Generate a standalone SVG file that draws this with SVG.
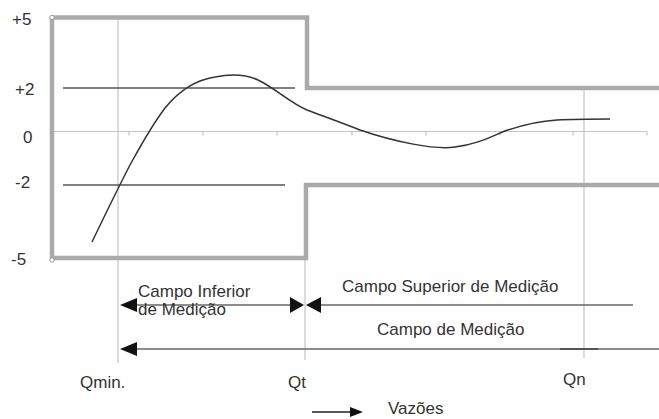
<svg xmlns="http://www.w3.org/2000/svg" width="659" height="419" viewBox="0 0 659 419">
<style>
.t{font-family:"Liberation Sans",Arial,sans-serif;font-size:17px;fill:#333}
.frame{fill:none;stroke:#aaaaaa;stroke-width:4.5}
.grid{fill:none;stroke:#c4c4c4;stroke-width:1.2}
.lim{fill:none;stroke:#555;stroke-width:1.4}
.arr{fill:none;stroke:#666;stroke-width:1.6}
.head{fill:#111}
</style>
<rect width="659" height="419" fill="#fff"/>
<g id="grid">
<line class="grid" x1="118" y1="17" x2="118" y2="363"/>
<line class="grid" x1="305" y1="258" x2="305" y2="360"/>
<line class="grid" x1="584" y1="88" x2="584" y2="358"/>
<line class="grid" x1="52" y1="131.5" x2="647" y2="131.5"/>
<path class="grid" d="M129,131.5v4M203,131.5v4M277,131.5v4M352,131.5v4M426,131.5v4M500,131.5v4M573,131.5v4M647,131.5v4"/>
</g>
<g id="frame">
<path class="frame" d="M52,17.5H307V88H659"/>
<path class="frame" d="M52,17.5V258H306V185H659"/>
<circle cx="52" cy="17.5" r="2.2" fill="#fff" stroke="#999" stroke-width="1"/>
<circle cx="52" cy="260" r="2.2" fill="#fff" stroke="#999" stroke-width="1"/>
</g>
<g id="limits">
<line class="lim" x1="63" y1="88" x2="295" y2="88"/>
<line class="lim" x1="63" y1="185" x2="285" y2="185"/>
</g>
<g id="curve">
<path d="M92,242 C105,215 118,188 130,165 C140,147 150,128 165,108 C178,92 195,80 215,77 C230,74 245,74 258,80 C275,88 290,103 307,110 C320,115 340,122 360,130 C395,142 435,150 455,147 C478,144 490,137 505,131 C525,124 540,121 557,120 C575,119 595,119 610,119" fill="none" stroke="#333" stroke-width="1.5"/>
</g>
<g id="axis-labels">
<text class="t" x="12" y="25">+5</text>
<text class="t" x="15" y="95">+2</text>
<text class="t" x="23" y="143">0</text>
<text class="t" x="15" y="188">-2</text>
<text class="t" x="11" y="265">-5</text>
</g>
<g id="connectors">
<line class="arr" x1="125" y1="305" x2="298" y2="305"/>
<polygon class="head" points="120,305 137,298 137,312"/>
<polygon class="head" points="304,305 290,297 290,313"/>
<line class="arr" x1="312" y1="305" x2="633" y2="305"/>
<polygon class="head" points="306,305 321,297 321,313"/>
<line class="arr" x1="125" y1="349" x2="659" y2="349"/>
<line x1="560" y1="349" x2="598" y2="349" stroke="#555" stroke-width="1.8"/>
<polygon class="head" points="120,349 137,342 137,356"/>
<line x1="312" y1="412" x2="353" y2="412" stroke="#222" stroke-width="1.4"/>
<polygon class="head" points="363,412 350,407 350,417"/>
</g>
<g id="campo-inferior">
<text class="t" x="138" y="297">Campo Inferior</text>
<text class="t" x="138" y="315">de Medição</text>
</g>
<g id="campo-superior"><text class="t" x="342" y="292">Campo Superior de Medição</text></g>
<g id="campo-medicao"><text class="t" x="377" y="335">Campo de Medição</text></g>
<g id="qmin"><text class="t" x="80" y="388">Qmin.</text></g>
<g id="qt"><text class="t" x="288" y="388">Qt</text></g>
<g id="qn"><text class="t" x="563" y="385">Qn</text></g>
<g id="vazoes"><text class="t" x="388" y="414">Vazões</text></g>
</svg>
